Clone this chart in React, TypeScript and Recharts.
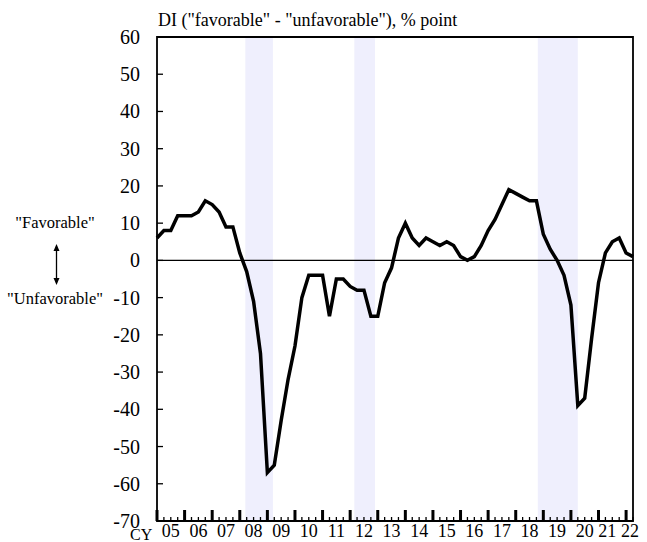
import React from 'react';
import {
  LineChart,
  Line,
  XAxis,
  YAxis,
  ReferenceArea,
  ReferenceLine,
} from 'recharts';

// quarterly DI, 2005 Q1 .. 2022 Q2
const diValues = [
  6, 8, 8, 12, 12, 12, 13, 16,
  15, 13, 9, 9, 2, -3, -11, -25,
  -57, -55, -43, -32, -23, -10, -4, -4,
  -4, -15, -5, -5, -7, -8, -8, -15,
  -15, -6, -2, 6, 10, 6, 4, 6,
  5, 4, 5, 4, 1, 0, 1, 4,
  8, 11, 15, 19, 18, 17, 16, 16,
  7, 3, 0, -4, -12, -39, -37, -21,
  -6, 2, 5, 6, 2, 1,
];
const firstYear = 2005;

// recession bands (calendar year, fractional)
const recessions = [
  [2008.2, 2009.2],
  [2012.15, 2012.9],
  [2018.8, 2020.25],
];

const yTicks = [-70, -60, -50, -40, -30, -20, -10, 0, 10, 20, 30, 40, 50, 60];
const yearLabels = ['05', '06', '07', '08', '09', '10', '11', '12', '13', '14', '15', '16', '17', '18', '19', '20', '21', '22'];

const data = diValues.map((v, i) => ({ t: firstYear + i / 4, di: v }));
const xEnd = firstYear + (diValues.length - 1) / 4;
const quarterTicks = data.map((d) => d.t);

const W = 647;
const H = 542;
const PLOT_LEFT = 157;
const PLOT_TOP = 37;
const PLOT_RIGHT = 633;
const PLOT_BOTTOM = 521;
const serif = { fontFamily: "'Liberation Serif', serif" };

const XTick = (props: any) => {
  const { x, payload } = props;
  const v: number = payload.value;
  const isYear = Math.abs(v - Math.round(v)) < 1e-6;
  const yearIdx = Math.floor(v) - firstYear;
  let label: string | null = null;
  let dx = 0;
  if (Math.abs(v - Math.floor(v) - 0.5) < 1e-6 && yearIdx < yearLabels.length - 2) {
    label = yearLabels[yearIdx];
  } else if (Math.abs(v - 2021.5) < 1e-6) {
    label = yearLabels[yearLabels.length - 2];
    dx = -5;
  } else if (Math.abs(v - 2022) < 1e-6) {
    label = yearLabels[yearLabels.length - 1];
    dx = 4;
  }
  return (
    <g>
      <line
        x1={x}
        x2={x}
        y1={PLOT_BOTTOM}
        y2={PLOT_BOTTOM - (isYear ? 11 : 4)}
        stroke="#000"
        strokeWidth={isYear ? 3 : 1.3}
      />
      {label && (
        <text x={x + dx} y={PLOT_BOTTOM + 16} textAnchor="middle" fontSize={18} style={serif} fill="#000">
          {label}
        </text>
      )}
    </g>
  );
};

const YTick = (props: any) => {
  const { y, payload } = props;
  const v: number = payload.value;
  return (
    <g>
      {v > -70 && v < 60 && (
        <line x1={PLOT_LEFT} x2={PLOT_LEFT + 6} y1={y} y2={y} stroke="#000" strokeWidth={1.3} />
      )}
      <text x={140} y={y + 7} textAnchor="end" fontSize={20} style={serif} fill="#000">
        {v}
      </text>
    </g>
  );
};

export default function App() {
  return (
    <div style={{ position: 'absolute', left: 0, top: 0, width: W, height: H, background: '#fff' }}>
      <LineChart
        width={W}
        height={H}
        data={data}
        margin={{ top: PLOT_TOP, right: W - PLOT_RIGHT, bottom: 1, left: PLOT_LEFT - 40 }}
      >
        {recessions.map(([a, b]) => (
          <ReferenceArea key={a} x1={a} x2={b} y1={-70} y2={60} fill="#efeffd" fillOpacity={1} stroke="none" />
        ))}
        <XAxis
          dataKey="t"
          type="number"
          domain={[firstYear, xEnd]}
          ticks={quarterTicks}
          interval={0}
          height={H - PLOT_BOTTOM - 1}
          axisLine={false}
          tickLine={false}
          tick={<XTick />}
        />
        <YAxis
          type="number"
          domain={[-70, 60]}
          ticks={yTicks}
          interval={0}
          width={40}
          axisLine={false}
          tickLine={false}
          tick={<YTick />}
        />
        <ReferenceLine y={0} stroke="#000" strokeWidth={1.3} />
        <Line
          type="linear"
          dataKey="di"
          stroke="#000"
          strokeWidth={3.5}
          dot={false}
          isAnimationActive={false}
        />
        <ReferenceArea x1={firstYear} x2={xEnd} y1={-70} y2={60} fill="none" stroke="#000" strokeWidth={1.8} />
      </LineChart>
      <svg
        width={W}
        height={H}
        style={{ position: 'absolute', left: 0, top: 0, pointerEvents: 'none' }}
      >
        <text x={158} y={26} fontSize={18} style={serif} fill="#000">
          DI ("favorable" - "unfavorable"), % point
        </text>
        <text x={55} y={228} textAnchor="middle" fontSize={16.5} style={serif} fill="#000">
          "Favorable"
        </text>
        <text x={55} y={304} textAnchor="middle" fontSize={16.5} style={serif} fill="#000">
          "Unfavorable"
        </text>
        <line x1={56.5} x2={56.5} y1={248} y2={281} stroke="#000" strokeWidth={1.3} />
        <path d="M56.5 244 L53.5 251 L59.5 251 Z" fill="#000" />
        <path d="M56.5 285 L53.5 278 L59.5 278 Z" fill="#000" />
        <text x={130} y={540} fontSize={16} style={serif} fill="#000">
          CY
        </text>
      </svg>
    </div>
  );
}
